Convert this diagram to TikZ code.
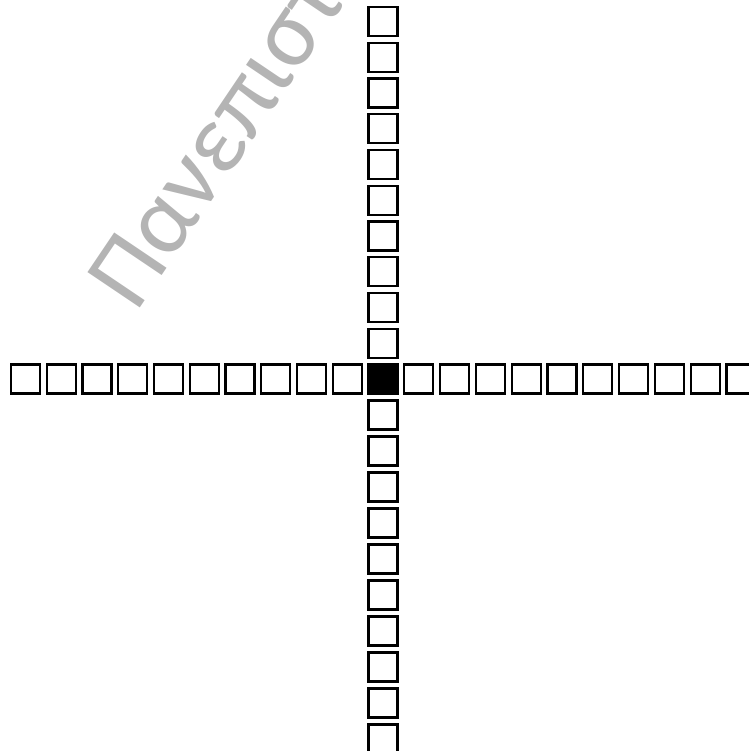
\documentclass[tikz,border=0pt]{standalone}
\usepackage{fontspec}
\newfontfamily\wmfont{Carlito}
\usepackage{xcolor}
\usepackage{tikz}
\definecolor{wmGray}{HTML}{B4B4B4}
\tikzset{
  cell/.style={draw=black,fill=white,line width=1.8pt,
    minimum size=0.87cm,inner sep=0pt},
  hitcell/.style={cell,fill=black},
  watermark/.style={font=\wmfont\fontsize{84}{86}\selectfont,text=wmGray,
    rotate=56,anchor=base west,inner sep=0pt}
}

\begin{document}
\begin{tikzpicture}[x=0.03cm,y=-0.03cm]
      \useasboundingbox (0,0) rectangle (748,751);
      \node[watermark] (mark) at (136,314) {Πανεπιστ};

      \node[hitcell] (mid) at (383,379) {};
      \foreach \i in {1,...,10} {
        \node[cell] (up\i) at (383,{379-35.75*\i}) {};
        \node[cell] (down\i) at (383,{379+36*\i}) {};
        \node[cell] (left\i) at ({383-35.75*\i},379) {};
        \node[cell] (right\i) at ({383+35.8*\i},379) {};
      }
    \end{tikzpicture}
\end{document}
